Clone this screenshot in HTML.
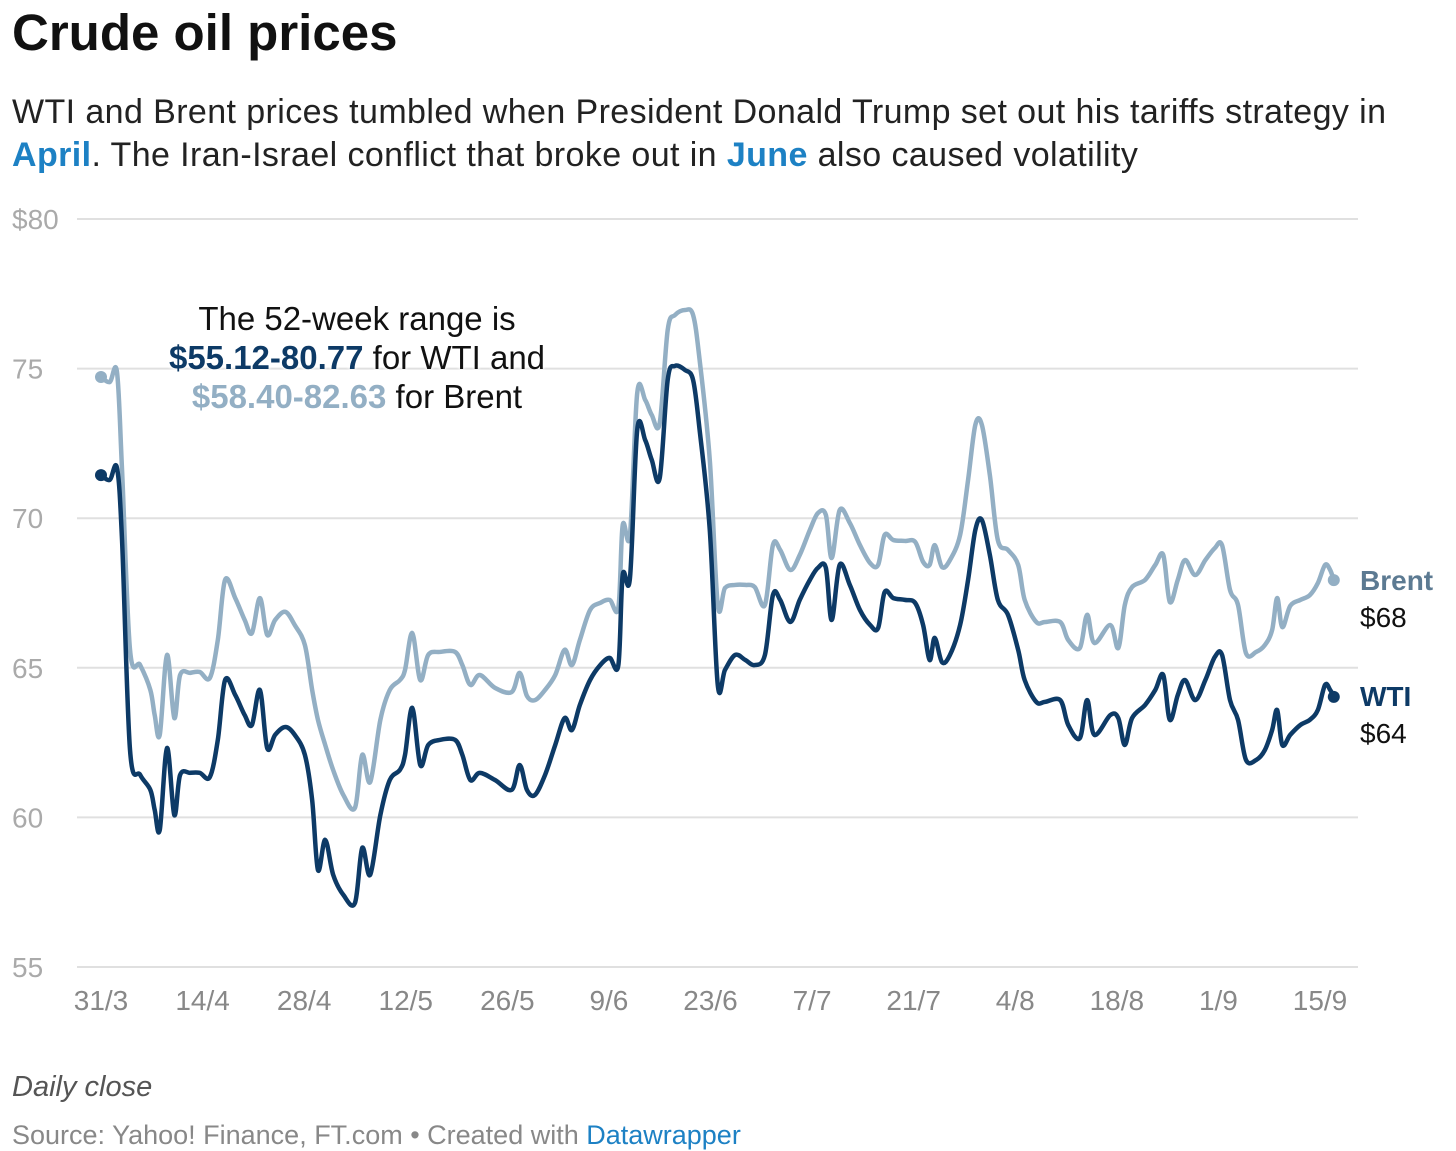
<!DOCTYPE html>
<html><head><meta charset="utf-8"><style>
body{margin:0;background:#fff;font-family:"Liberation Sans",Arial,sans-serif;}
#wrap{position:relative;width:1456px;height:1151px;overflow:hidden;}
.t{position:absolute;white-space:nowrap;}
</style></head><body>
<div id="wrap">
<div class="t" style="left:12px;top:3px;font-size:51px;font-weight:bold;color:#111;">Crude oil prices</div>
<div class="t" style="left:12px;top:91px;font-size:34px;line-height:43px;color:#222;letter-spacing:0.4px;">WTI and Brent prices tumbled when President Donald Trump set out his tariffs strategy in<br><b style="color:#1d81c4">April</b>. The Iran-Israel conflict that broke out in <b style="color:#1d81c4">June</b> also caused volatility</div>
<svg id="chart" width="1456" height="1151" style="position:absolute;left:0;top:0"></svg>
<div class="t" style="left:357px;top:299px;transform:translateX(-50%);text-align:center;font-size:33px;line-height:39px;color:#111;text-shadow:0 0 4px #fff,0 0 4px #fff,0 0 4px #fff;">The 52-week range is<br><b style="color:#0d3a66">$55.12-80.77</b> for WTI and<br><b style="color:#93afc4">$58.40-82.63</b> for Brent</div>
<div class="t" style="left:1360px;top:562px;font-size:28px;line-height:37px;color:#111;"><b style="color:#5c7a92">Brent</b><br>$68</div>
<div class="t" style="left:1360px;top:678px;font-size:28px;line-height:37px;color:#111;"><b style="color:#0d3a66">WTI</b><br>$64</div>
<div class="t" style="left:12px;top:1071px;font-size:29px;font-style:italic;color:#555;">Daily close</div>
<div class="t" style="left:12px;top:1120px;font-size:27px;color:#888;">Source: Yahoo! Finance, FT.com • Created with <span style="color:#1d81c4">Datawrapper</span></div>
</div>
<script>
const days=[0,1.2,2.2,2.9,4,5.4,6.8,7.4,8.1,9.1,10.1,10.9,12.3,13.6,15,16.1,17.1,18.5,19.8,20.8,21.9,22.9,24,25.4,26.7,28.1,29.1,29.9,30.9,32,33.4,35,36,37.1,38.5,39.8,41.2,41.9,42.9,44,45.1,46.7,48.8,49.8,50.9,52.2,54.3,56.6,57.7,58.7,59.8,61.2,62.6,63.9,64.9,66,67.4,68.8,70.1,71.3,71.9,72.9,73.9,75,75.9,77,78.1,79.1,80.5,81.6,82.5,83.9,85,86,87.4,88.8,90.1,91.5,92.6,93.6,95,96.3,97.7,98.8,99.9,100.7,101.8,103.2,104.6,106,107.1,108,109.2,110.8,112.2,113.3,114.2,114.9,115.9,117,118.4,119.5,120.5,121.4,122.5,123.6,125,126.4,127.3,128.9,130.1,132.2,133.3,134.9,135.9,136.9,139.1,140.2,141.1,142.1,143.9,145.3,146.4,147.3,148.4,149.4,150.8,152.2,153.5,154.5,155.6,156.7,157.8,159.2,160.4,161.4,162.1,162.8,163.9,165.3,166.6,167.7,168.7,169.4,169.9];
const wti=[71.44,71.28,71.68,69.27,62.25,61.42,60.92,60.25,59.58,62.32,60.08,61.42,61.49,61.49,61.35,62.59,64.59,64.09,63.42,63.09,64.26,62.32,62.76,63.02,62.76,62.09,60.58,58.24,59.25,58.08,57.41,57.14,58.98,58.08,60.08,61.25,61.59,62.09,63.66,61.75,62.42,62.59,62.59,62.09,61.25,61.49,61.25,60.92,61.75,60.92,60.75,61.42,62.42,63.32,62.92,63.76,64.59,65.09,65.33,65.09,68.10,68.00,72.95,72.61,71.95,71.34,74.62,75.09,74.95,74.62,72.95,69.61,64.43,64.93,65.43,65.26,65.09,65.43,67.43,67.27,66.53,67.27,67.94,68.34,68.34,66.60,68.44,67.77,66.93,66.43,66.33,67.53,67.33,67.27,67.17,66.43,65.26,66.00,65.19,65.43,66.43,67.94,69.61,69.94,68.77,67.27,66.77,65.60,64.59,63.86,63.86,63.92,63.09,62.65,63.92,62.76,63.42,63.32,62.42,63.32,63.76,64.26,64.76,63.26,64.09,64.59,63.92,64.59,65.36,65.43,63.92,63.26,61.92,61.92,62.25,62.92,63.59,62.42,62.76,63.09,63.26,63.59,64.43,64.26,64.03];
const brent=[74.72,74.55,74.89,71.61,65.60,65.09,64.26,63.42,62.76,65.43,63.32,64.76,64.83,64.86,64.66,65.93,67.94,67.33,66.60,66.16,67.33,66.10,66.60,66.87,66.43,65.76,64.26,63.26,62.42,61.58,60.75,60.32,62.09,61.18,63.26,64.26,64.59,64.93,66.16,64.59,65.43,65.53,65.53,65.09,64.43,64.76,64.33,64.19,64.83,64.06,63.92,64.26,64.76,65.60,65.09,65.93,66.93,67.17,67.27,67.00,69.77,69.44,74.18,73.95,73.45,73.18,76.29,76.79,76.96,76.79,75.29,71.95,67.10,67.67,67.77,67.77,67.70,67.10,69.10,68.94,68.27,68.77,69.61,70.17,70.11,68.67,70.27,69.84,69.10,68.50,68.44,69.44,69.27,69.24,69.21,68.54,68.44,69.10,68.37,68.60,69.44,71.28,73.12,73.12,71.44,69.27,68.94,68.44,67.27,66.53,66.53,66.53,65.93,65.66,66.77,65.83,66.43,65.66,67.10,67.70,67.94,68.44,68.77,67.20,67.94,68.60,68.10,68.60,69.00,69.10,67.60,67.10,65.49,65.53,65.76,66.26,67.33,66.36,67.07,67.27,67.43,67.83,68.44,68.27,67.93];
const yTicks=[55,60,65,70,75,80];
const yTickLabels=["55","60","65","70","75","$80"];
const xTickDays=[0,14,28,42,56,70,84,98,112,126,140,154,168];
const xTickLabels=["31/3","14/4","28/4","12/5","26/5","9/6","23/6","7/7","21/7","4/8","18/8","1/9","15/9"];

const svg=document.getElementById('chart');
const NS='http://www.w3.org/2000/svg';
const X=d=>101+d*(1219/168);
const Y=v=>967-(v-55)*(748/25);
function mk(tag,attrs){const e=document.createElementNS(NS,tag);for(const k in attrs)e.setAttribute(k,attrs[k]);svg.appendChild(e);return e;}
yTicks.forEach((t,i)=>{
  const g=mk('line',{x1:77,x2:1358,y1:Y(t),y2:Y(t),stroke:'#e0e0e0','stroke-width':2});
  
  
  const tx=mk('text',{x:12,y:Y(t)+10,'font-size':28,fill:'#aaa','font-family':'Liberation Sans, sans-serif'});
  tx.textContent=yTickLabels[i];
  
  
});
xTickDays.forEach((d,i)=>{
  const tx=mk('text',{x:X(d),y:1010,'font-size':28,fill:'#888','text-anchor':'middle','font-family':'Liberation Sans, sans-serif'});
  tx.textContent=xTickLabels[i];
  
  
});
function path(vals){
  const n=Math.min(days.length,vals.length);
  const p=[];for(let i=0;i<n;i++)p.push([X(days[i]),Y(vals[i])]);
  let d='M'+p[0][0]+','+p[0][1];
  for(let i=0;i<n-1;i++){
    const p0=p[Math.max(0,i-1)],p1=p[i],p2=p[i+1],p3=p[Math.min(n-1,i+2)];
    const c1x=p1[0]+(p2[0]-p0[0])/6,c1y=p1[1]+(p2[1]-p0[1])/6;
    const c2x=p2[0]-(p3[0]-p1[0])/6,c2y=p2[1]-(p3[1]-p1[1])/6;
    d+=' C'+c1x+','+c1y+' '+c2x+','+c2y+' '+p2[0]+','+p2[1];
  }
  return {d,p};
}
[[brent,'#93afc4','brent'],[wti,'#0d3a66','wti']].forEach(([vals,col,nm])=>{
  const r=path(vals);
  const l=mk('path',{d:r.d,fill:'none',stroke:col,'stroke-width':4.5,'stroke-linejoin':'round','stroke-linecap':'round'});
  
  
  [r.p[0],r.p[r.p.length-1]].forEach(pt=>{
    const c=mk('circle',{cx:pt[0],cy:pt[1],r:6,fill:col});
    
    
  });
});
</script>
</body></html>
